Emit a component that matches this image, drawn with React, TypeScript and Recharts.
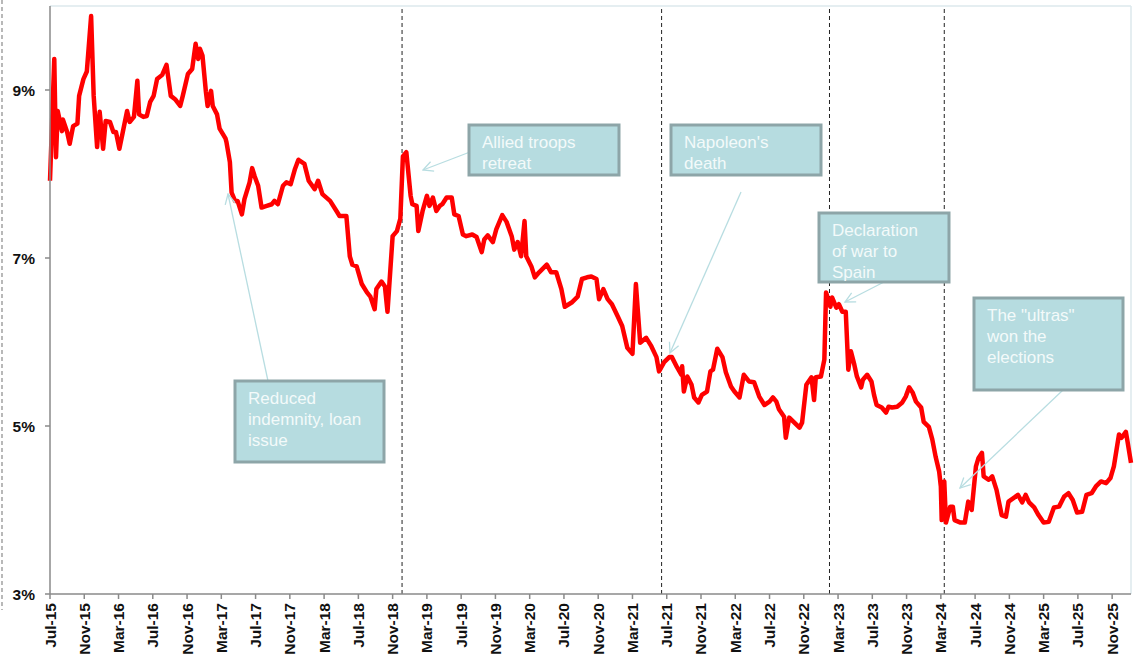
import { LineChart, Line, XAxis, YAxis, ReferenceLine } from 'recharts';

// months since Jul-15, yield (%)
const months = [
  0.0, 0.5, 0.7, 0.9, 1.4, 1.5, 2.0, 2.3, 2.7, 3.2, 3.4, 3.9, 4.3, 4.8, 5.1, 5.5, 5.8, 6.2, 6.5, 7.0,
  7.4, 7.7, 8.1, 8.5, 9.0, 9.3, 9.8, 10.2, 10.4, 10.9, 11.3, 11.7, 12.1, 12.5, 13.1, 13.6, 14.1, 14.6, 15.2, 15.5,
  16.1, 16.6, 17.0, 17.3, 17.5, 17.8, 18.2, 18.4, 18.8, 19.0, 19.5, 19.8, 20.5, 20.6, 21.0, 21.2, 21.6, 21.9, 22.4, 22.7,
  23.3, 23.6, 23.9, 24.3, 24.7, 25.3, 25.9, 26.2, 26.6, 27.2, 27.6, 28.1, 28.6, 29.0, 29.7, 30.2, 30.9, 31.3, 31.8, 32.7,
  33.5, 33.8, 34.6, 35.0, 35.3, 35.8, 36.4, 37.0, 37.4, 37.9, 38.1, 38.7, 39.1, 39.4, 40.0, 40.5, 40.9, 41.2, 41.6, 42.1,
  42.3, 42.8, 43.0, 43.5, 44.0, 44.3, 44.7, 45.1, 45.5, 45.8, 46.3, 46.9, 47.2, 47.7, 48.2, 48.6, 49.3, 49.8, 50.4, 50.7,
  51.1, 51.7, 52.1, 52.8, 53.3, 53.9, 54.2, 54.6, 55.0, 55.4, 55.6, 56.2, 56.6, 57.1, 58.0, 58.5, 59.1, 59.7, 60.1, 60.9,
  61.6, 62.1, 62.7, 63.2, 63.8, 64.1, 64.6, 65.1, 65.6, 66.3, 66.8, 67.4, 68.0, 68.4, 68.9, 69.6, 70.2, 70.8, 71.1, 71.7,
  72.3, 72.6, 73.2, 73.7, 73.8, 74.0, 74.4, 74.9, 75.2, 75.7, 76.1, 76.7, 77.1, 77.4, 77.9, 78.5, 78.9, 79.5, 79.9, 80.5,
  81.0, 81.6, 82.2, 82.8, 83.4, 84.0, 84.4, 84.8, 85.1, 85.7, 85.9, 86.3, 86.9, 87.5, 87.8, 88.3, 88.9, 89.2, 89.4, 90.0,
  90.4, 90.6, 91.1, 91.3, 91.8, 92.1, 92.5, 92.9, 93.2, 93.5, 93.9, 94.2, 94.7, 94.9, 95.4, 95.9, 96.2, 96.5, 97.1, 97.6,
  97.9, 98.3, 98.9, 99.5, 99.9, 100.3, 100.7, 101.1, 101.7, 102.0, 102.6, 103.0, 103.4, 103.8, 104.0, 104.1, 104.4, 104.6, 105.1, 105.4,
  105.6, 106.3, 106.8, 107.2, 107.6, 108.1, 108.4, 108.8, 109.0, 109.6, 110.0, 110.5, 111.1, 111.6, 111.9, 112.6, 113.0, 113.5, 113.9, 114.3,
  114.9, 115.4, 116.0, 116.6, 117.2, 117.8, 118.4, 118.9, 119.4, 119.9, 120.5, 121.0, 121.6, 122.1, 122.7, 123.3, 123.8, 124.2, 124.8, 125.1,
  125.6, 125.8, 126.2,
];

const yields = [
  7.92, 9.37, 8.2, 8.75, 8.51, 8.65, 8.5, 8.36, 8.57, 8.6, 8.93, 9.13, 9.22, 9.88, 8.93, 8.32, 8.74, 8.3, 8.63, 8.62,
  8.5, 8.5, 8.3, 8.5, 8.75, 8.62, 8.68, 9.11, 8.71, 8.68, 8.69, 8.86, 8.93, 9.13, 9.18, 9.3, 8.93, 8.89, 8.81, 8.93,
  9.19, 9.25, 9.55, 9.37, 9.49, 9.41, 8.98, 8.81, 8.99, 8.81, 8.71, 8.54, 8.42, 8.38, 8.14, 7.78, 7.68, 7.68, 7.52, 7.7,
  7.9, 8.07, 7.97, 7.86, 7.6, 7.62, 7.64, 7.68, 7.64, 7.86, 7.9, 7.88, 8.06, 8.17, 8.12, 7.92, 7.82, 7.92, 7.76, 7.68,
  7.55, 7.5, 7.5, 7.02, 6.92, 6.9, 6.69, 6.59, 6.54, 6.39, 6.63, 6.72, 6.66, 6.36, 7.26, 7.32, 7.47, 8.21, 8.26, 7.74,
  7.64, 7.62, 7.32, 7.56, 7.74, 7.62, 7.72, 7.56, 7.62, 7.64, 7.72, 7.72, 7.52, 7.5, 7.28, 7.26, 7.28, 7.25, 7.07, 7.22,
  7.27, 7.19, 7.34, 7.51, 7.43, 7.26, 7.1, 7.19, 7.02, 7.44, 7.02, 6.9, 6.77, 6.83, 6.92, 6.83, 6.83, 6.63, 6.42, 6.47,
  6.54, 6.75, 6.77, 6.78, 6.75, 6.51, 6.63, 6.51, 6.45, 6.3, 6.19, 5.93, 5.86, 6.69, 5.99, 6.05, 5.95, 5.82, 5.65, 5.76,
  5.82, 5.82, 5.7, 5.61, 5.71, 5.41, 5.59, 5.49, 5.34, 5.28, 5.37, 5.41, 5.65, 5.67, 5.92, 5.82, 5.64, 5.47, 5.41, 5.34,
  5.61, 5.53, 5.52, 5.35, 5.25, 5.29, 5.34, 5.29, 5.2, 5.11, 4.86, 5.1, 5.04, 4.98, 5.04, 5.49, 5.58, 5.31, 5.58, 5.59,
  5.79, 6.59, 6.42, 6.53, 6.41, 6.45, 6.36, 6.36, 5.67, 5.89, 5.73, 5.59, 5.46, 5.55, 5.61, 5.53, 5.37, 5.25, 5.22, 5.16,
  5.23, 5.22, 5.23, 5.28, 5.35, 5.46, 5.4, 5.29, 5.22, 5.05, 4.99, 4.84, 4.63, 4.46, 4.28, 3.88, 4.34, 3.85, 4.04, 4.04,
  3.88, 3.85, 3.85, 4.1, 4.0, 4.52, 4.62, 4.68, 4.4, 4.36, 4.4, 4.24, 3.94, 3.92, 4.1, 4.15, 4.18, 4.09, 4.18, 4.09,
  4.03, 3.94, 3.85, 3.86, 4.03, 4.04, 4.16, 4.2, 4.12, 3.97, 3.98, 4.18, 4.2, 4.28, 4.34, 4.32, 4.38, 4.52, 4.9, 4.86,
  4.93, 4.81, 4.56,
];

const tickMonths = [0, 4, 8, 12, 16, 20, 24, 28, 32, 36, 40, 44, 48, 52, 56, 60, 64, 68, 72, 76, 80, 84, 88, 92, 96, 100, 104, 108, 112, 116, 120, 124];
const tickLabels = [
  'Jul-15', 'Nov-15', 'Mar-16', 'Jul-16', 'Nov-16', 'Mar-17', 'Jul-17', 'Nov-17', 'Mar-18', 'Jul-18', 'Nov-18',
  'Mar-19', 'Jul-19', 'Nov-19', 'Mar-20', 'Jul-20', 'Nov-20', 'Mar-21', 'Jul-21', 'Nov-21', 'Mar-22', 'Jul-22',
  'Nov-22', 'Mar-23', 'Jul-23', 'Nov-23', 'Mar-24', 'Jul-24', 'Nov-24', 'Mar-25', 'Jul-25', 'Nov-25',
];
const yTicks = [3, 5, 7, 9];

// event markers (months since Jul-15)
const eventMonths = [41.1, 71.4, 91.0, 104.4];

// annotation boxes (pixel layout on the page)
const notes = [
  { lines: ['Reduced', 'indemnity, loan', 'issue'], box: [235, 381, 149, 81], from: [268, 381], to: [228, 194] },
  { lines: ['Allied troops', 'retreat'], box: [469, 125, 150, 50], from: [470, 152], to: [423, 170] },
  { lines: ["Napoleon's", 'death'], box: [671, 125, 150, 50], from: [741, 192], to: [670, 353] },
  { lines: ['Declaration', 'of war to', 'Spain'], box: [819, 213, 130, 69], from: [884, 282], to: [845, 302] },
  { lines: ['The "ultras"', 'won the', 'elections'], box: [974, 298, 149, 92], from: [1063, 390], to: [960, 488] },
];

const data = months.map((m, i) => ({ m, v: yields[i] }));

const FONT = '"Liberation Sans", Arial, sans-serif';

function XTick(props: any) {
  const { x, y, payload } = props;
  const idx = tickMonths.indexOf(payload.value);
  const tx = x + 5.5;
  const ty = y + 2;
  return (
    <text
      x={tx}
      y={ty}
      transform={`rotate(-90, ${tx}, ${ty})`}
      textAnchor="end"
      fontFamily={FONT}
      fontWeight="bold"
      fontSize={15.5}
      fill="#111"
    >
      {idx >= 0 ? tickLabels[idx] : ''}
    </text>
  );
}

export default function App() {
  return (
    <div style={{ position: 'fixed', left: 0, top: 0, width: 1134, height: 659, background: '#fff' }}>
      <LineChart width={1134} height={659} data={data} margin={{ top: 6, right: 3, left: 0, bottom: 0 }}>
        <XAxis
          dataKey="m"
          type="number"
          domain={[0, 126.2]}
          ticks={tickMonths}
          interval={0}
          tick={<XTick />}
          height={65}
          tickSize={5}
          tickMargin={2}
          stroke="#8a8a8a"
          strokeWidth={1.5}
        />
        <YAxis
          type="number"
          domain={[3, 10]}
          ticks={yTicks}
          interval={0}
          width={50}
          tickSize={5}
          tickMargin={10}
          tickFormatter={(v: number) => `${v}%`}
          tick={{ fontFamily: FONT, fontWeight: 'bold', fontSize: 15.5, fill: '#111' }}
          stroke="#8a8a8a"
          strokeWidth={1.5}
        />
        <ReferenceLine y={10} stroke="#dce8ec" strokeWidth={1.5} />
        <ReferenceLine x={126.2} stroke="#dce8ec" strokeWidth={1.5} />
        {eventMonths.map((m) => (
          <ReferenceLine key={m} x={m} stroke="#222" strokeDasharray="4 3" strokeWidth={1} />
        ))}
        <Line
          dataKey="v"
          type="linear"
          stroke="#ff0000"
          strokeWidth={4.5}
          strokeLinejoin="round"
          dot={false}
          isAnimationActive={false}
        />
      </LineChart>
      {/* annotation overlay */}
      <svg
        width={1134}
        height={659}
        style={{ position: 'absolute', left: 0, top: 0, pointerEvents: 'none' }}
      >
        <defs>
          <marker id="arr" viewBox="0 0 12 12" refX="11" refY="6" markerWidth="12" markerHeight="12" markerUnits="userSpaceOnUse" orient="auto">
            <path d="M1,1 L11,6 L1,11" fill="none" stroke="#b8dde1" strokeWidth="1.3" />
          </marker>
        </defs>
        <line x1={2} y1={0} x2={2} y2={610} stroke="#8a8a8a" strokeDasharray="4 3" strokeWidth={1.2} />
        {notes.map((n) => (
          <g key={n.lines[0]}>
            <line
              x1={n.from[0]}
              y1={n.from[1]}
              x2={n.to[0]}
              y2={n.to[1]}
              stroke="#b8dde1"
              strokeWidth={1.3}
              markerEnd="url(#arr)"
            />
            <rect
              x={n.box[0]}
              y={n.box[1]}
              width={n.box[2]}
              height={n.box[3]}
              fill="#b6dce0"
              stroke="#8da5a8"
              strokeWidth={3}
            />
            {n.lines.map((t, i) => (
              <text
                key={t}
                x={n.box[0] + 13}
                y={n.box[1] + 23 + i * 21}
                fontFamily={FONT}
                fontSize={17}
                fill="#f3fafa"
              >
                {t}
              </text>
            ))}
          </g>
        ))}
      </svg>
    </div>
  );
}
